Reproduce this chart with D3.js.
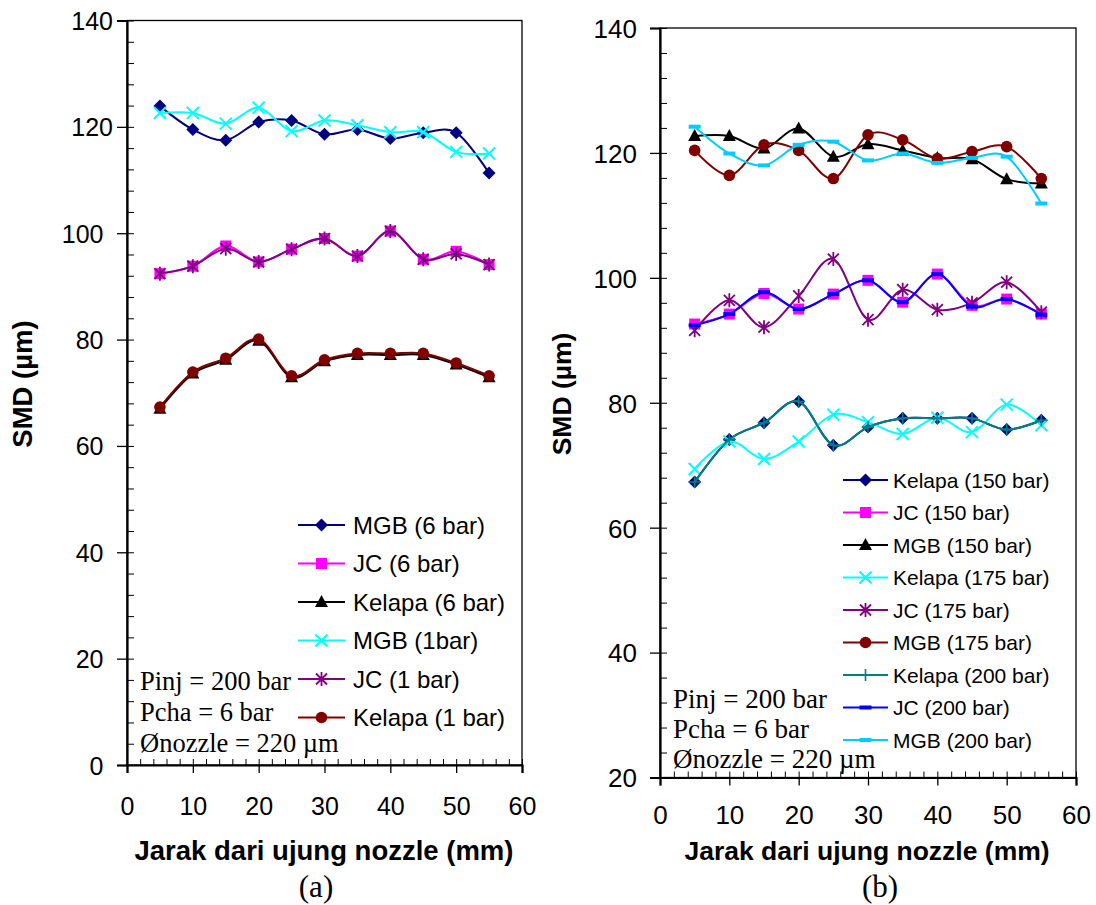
<!DOCTYPE html>
<html><head><meta charset="utf-8">
<script src="https://cdn.jsdelivr.net/npm/d3@7"></script>
<style>
html,body{margin:0;padding:0;background:#fff;}
svg{display:block;}
text{font-family:"Liberation Sans",Arial,sans-serif;fill:#000;}
.serif{font-family:"Liberation Serif","Times New Roman",serif;}
</style></head>
<body>
<svg id="chart" width="1096" height="905"></svg>
<script>
// ---------- DATA ----------
const distance = [5,10,15,20,25,30,35,40,45,50,55];
const xTicks = [0,10,20,30,40,50,60];
const yTicksA = [0,20,40,60,80,100,120,140];
const yTicksB = [20,40,60,80,100,120,140];

// chart (a)
const aNames = ["MGB (6 bar)","JC (6 bar)","Kelapa (6 bar)","MGB (1bar)","JC (1 bar)","Kelapa (1 bar)"];
const aMGB6    = [123.9,119.5,117.5,120.9,121.2,118.6,119.5,117.8,118.9,118.9,111.3];
const aJC6     = [92.4,93.8,97.6,94.6,97.0,99.0,95.7,100.4,95.1,96.6,94.1];
const aKelapa6 = [67.0,73.6,76.2,79.8,72.9,75.9,77.1,77.1,77.1,75.3,72.9];
const aMGB1    = [122.6,122.6,120.6,123.6,119.2,121.2,120.3,119.0,119.0,115.3,115.0];
const aJC1     = [92.4,93.8,97.1,94.6,97.0,99.0,95.7,100.4,95.1,96.1,94.1];
const aKelapa1 = [67.3,73.9,76.5,80.1,73.2,76.2,77.4,77.4,77.4,75.6,73.2];

// chart (b)
const bNames = ["Kelapa (150 bar)","JC (150 bar)","MGB (150 bar)","Kelapa (175 bar)","JC (175 bar)","MGB (175 bar)","Kelapa (200 bar)","JC (200 bar)","MGB (200 bar)"];
const bKelapa150 = [67.3,74.1,76.8,80.2,73.2,76.1,77.5,77.5,77.5,75.7,77.2];
const bJC150     = [92.6,94.2,97.5,95.0,97.4,99.6,96.1,100.6,95.6,96.6,94.2];
const bMGB150    = [122.7,122.7,120.7,123.9,119.4,121.4,120.4,119.2,119.0,115.8,115.1];
const bKelapa175 = [69.4,73.8,71.0,73.8,78.1,76.9,75.0,77.6,75.3,79.7,76.4];
const bJC175     = [91.6,96.4,92.1,97.1,103.0,93.3,98.1,94.9,96.0,99.3,94.5];
const bMGB175    = [120.4,116.4,121.3,120.4,115.9,122.9,122.1,119.1,120.2,121.0,115.9];
const bKelapa200 = [67.3,74.1,76.8,80.2,73.2,76.1,77.5,77.5,77.5,75.7,77.2];
const bJC200     = [92.4,94.2,97.7,95.0,97.4,99.6,96.1,100.6,95.4,96.6,94.1];
const bMGB200    = [124.2,119.9,118.0,121.3,121.8,118.8,119.9,118.4,119.2,119.4,111.9];

const annot = ["Pinj = 200 bar","Pcha = 6 bar","Ønozzle = 220 µm"];
const xTitle = "Jarak dari ujung nozzle (mm)";
const yTitle = "SMD (µm)";

// ---------- STYLES ----------
const styleA = [
  {c:"#000080", m:"diamond"},
  {c:"#FF00FF", m:"square"},
  {c:"#000000", m:"triangle"},
  {c:"#00FFFF", m:"x"},
  {c:"#800080", m:"asterisk"},
  {c:"#800000", m:"circle"}
];
const styleB = [
  {c:"#000080", m:"diamond"},
  {c:"#FF00FF", m:"square"},
  {c:"#000000", m:"triangle"},
  {c:"#00FFFF", m:"x"},
  {c:"#800080", m:"asterisk"},
  {c:"#800000", m:"circle"},
  {c:"#008080", m:"plus"},
  {c:"#0000FF", m:"dash"},
  {c:"#00CCFF", m:"dash"}
];

const svg = d3.select("#chart");

function drawMarker(g, type, color, cx, cy) {
  const t = `translate(${cx},${cy})`;
  switch(type) {
    case "diamond":
      g.append("path").attr("transform",t).attr("d","M0,-6.5L6.5,0L0,6.5L-6.5,0Z").attr("fill",color); break;
    case "square":
      g.append("rect").attr("x",cx-5.5).attr("y",cy-5.5).attr("width",11).attr("height",11).attr("fill",color); break;
    case "triangle":
      g.append("path").attr("transform",t).attr("d","M0,-7L6.5,5L-6.5,5Z").attr("fill",color); break;
    case "circle":
      g.append("circle").attr("cx",cx).attr("cy",cy).attr("r",5.8).attr("fill",color); break;
    case "x":
      g.append("path").attr("transform",t).attr("d","M-6,-6L6,6M-6,6L6,-6").attr("stroke",color).attr("stroke-width",2).attr("fill","none"); break;
    case "asterisk":
      g.append("path").attr("transform",t).attr("d","M-5.5,-5.5L5.5,5.5M-5.5,5.5L5.5,-5.5M0,-7L0,7").attr("stroke",color).attr("stroke-width",1.8).attr("fill","none"); break;
    case "plus":
      g.append("path").attr("transform",t).attr("d","M-6,0L6,0M0,-6L0,6").attr("stroke",color).attr("stroke-width",1.6).attr("fill","none"); break;
    case "dash":
      g.append("rect").attr("x",cx-6).attr("y",cy-2).attr("width",12).attr("height",4).attr("fill",color); break;
  }
}

function drawChart(cfg) {
  const x = d3.scaleLinear().domain([0,60]).range([cfg.x0,cfg.x1]);
  const y = d3.scaleLinear().domain(cfg.yDomain).range([cfg.yBot,cfg.yTop]);
  const g = svg.append("g");

  // frame
  g.append("rect").attr("x",cfg.x0).attr("y",cfg.yTop).attr("width",cfg.x1-cfg.x0).attr("height",cfg.yBot-cfg.yTop)
    .attr("fill","none").attr("stroke","#000").attr("stroke-width",1.3);

  // x axis minor ticks (inside), major (outside)
  const xMinor = d3.range(0,61,2);
  g.append("g").attr("transform",`translate(0,${cfg.yBot})`)
    .call(d3.axisBottom(x).tickValues(xMinor).tickSize(-6).tickFormat(""))
    .call(a=>a.select(".domain").remove())
    .call(a=>a.selectAll("line").attr("stroke","#000").attr("stroke-width",1));
  const xa = g.append("g").attr("transform",`translate(0,${cfg.yBot})`)
    .call(d3.axisBottom(x).tickValues(xTicks).tickSize(8).tickPadding(0).tickFormat(d3.format("d")));
  xa.select(".domain").attr("stroke","#000").attr("stroke-width",2.2);
  xa.selectAll("line").attr("stroke","#000").attr("stroke-width",1.3);
  xa.selectAll("text").attr("font-size",cfg.tickFont).attr("dy",null).attr("y",cfg.xLabelDy)
    .style("font-family","'Liberation Sans',Arial,sans-serif").attr("fill","#000");

  // y axis minor ticks (inside)
  const yMinor = d3.range(cfg.yDomain[0],cfg.yDomain[1]+0.1,4);
  g.append("g").attr("transform",`translate(${cfg.x0},0)`)
    .call(d3.axisRight(y).tickValues(yMinor).tickSize(7).tickFormat(""))
    .call(a=>a.select(".domain").remove())
    .call(a=>a.selectAll("line").attr("stroke","#000").attr("stroke-width",1));
  const ya = g.append("g").attr("transform",`translate(${cfg.x0},0)`)
    .call(d3.axisLeft(y).tickValues(cfg.yTicks).tickSize(10).tickPadding(0).tickFormat(d3.format("d")));
  ya.select(".domain").attr("stroke","#000").attr("stroke-width",2.2);
  ya.selectAll("line").attr("stroke","#000").attr("stroke-width",1.3);
  ya.selectAll("text").attr("font-size",cfg.tickFont).attr("text-anchor","end")
    .attr("x",d => cfg.yLabelX(d) - cfg.x0).attr("dy","0.36em")
    .style("font-family","'Liberation Sans',Arial,sans-serif").attr("fill","#000");

  // series
  const line = d3.line().x((d,i)=>x(distance[i])).y(d=>y(d)).curve(d3.curveCatmullRom.alpha(0));
  cfg.series.forEach((s,k)=>{
    const st = cfg.styles[k];
    g.append("path").attr("d",line(s)).attr("fill","none").attr("stroke",st.c).attr("stroke-width",2);
    s.forEach((v,i)=>drawMarker(g, st.m, st.c, x(distance[i]), y(v)));
  });

  // legend
  const lg = g.append("g");
  cfg.names.forEach((n,i)=>{
    const yy = cfg.leg.y0 + i*cfg.leg.dy;
    const st = cfg.styles[i];
    lg.append("line").attr("x1",cfg.leg.lx0).attr("x2",cfg.leg.lx1).attr("y1",yy).attr("y2",yy)
      .attr("stroke",st.c).attr("stroke-width",2);
    drawMarker(lg, st.m, st.c, (cfg.leg.lx0+cfg.leg.lx1)/2, yy);
    lg.append("text").attr("x",cfg.leg.tx).attr("y",yy + 0.36*cfg.leg.font)
      .attr("font-size",cfg.leg.font).text(n);
  });

  // annotation
  annot.forEach((t,i)=>{
    g.append("text").attr("class","serif").attr("x",cfg.ann.x).attr("y",cfg.ann.y0 + i*cfg.ann.dy)
      .attr("font-size",cfg.ann.font).text(t);
  });

  // titles
  g.append("text").attr("x",cfg.xTitleX).attr("y",860).attr("text-anchor","middle")
    .attr("font-size",cfg.titleFont).attr("font-weight","bold").text(xTitle);
  g.append("text").attr("transform",`translate(${cfg.yTitleX},${cfg.yTitleY}) rotate(-90)`)
    .attr("text-anchor","middle").attr("font-size",cfg.titleFont).attr("font-weight","bold").text(yTitle);
  g.append("text").attr("class","serif").attr("x",cfg.subX).attr("y",897).attr("text-anchor","middle")
    .attr("font-size",31).text(cfg.sub);
}

drawChart({
  x0:127, x1:522, yTop:20.5, yBot:765, yDomain:[0,140], yTicks:yTicksA,
  yLabelX: d => (d>=120 ? 113 : 103.5), xLabelDy: 50, tickFont:25,
  series:[aMGB6,aJC6,aKelapa6,aMGB1,aJC1,aKelapa1], styles:styleA, names:aNames,
  leg:{y0:525, dy:38.5, lx0:298, lx1:345, tx:353, font:24},
  ann:{x:140, y0:690, dy:31, font:26.5},
  xTitleX:324, yTitleX:32, yTitleY:384, titleFont:27.5, subX:316, sub:"(a)"
});

drawChart({
  x0:660, x1:1076, yTop:28, yBot:777.5, yDomain:[20,140], yTicks:yTicksB,
  yLabelX: d => 637, xLabelDy: 46, tickFont:26,
  series:[bKelapa150,bJC150,bMGB150,bKelapa175,bJC175,bMGB175,bKelapa200,bJC200,bMGB200], styles:styleB, names:bNames,
  leg:{y0:480, dy:32.5, lx0:843, lx1:888, tx:893, font:21},
  ann:{x:673, y0:708, dy:30, font:27},
  xTitleX:867, yTitleX:571, yTitleY:394, titleFont:26.5, subX:880, sub:"(b)"
});
</script>
</body></html>
